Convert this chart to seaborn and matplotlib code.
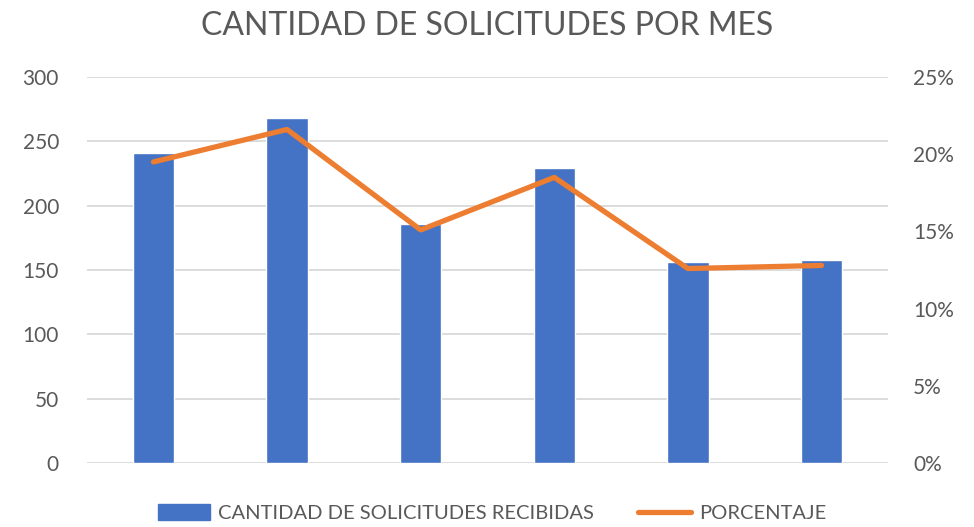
import matplotlib.pyplot as plt
import matplotlib.ticker as mticker
from matplotlib.patches import Patch
from matplotlib.lines import Line2D
import seaborn as sns
import numpy as np
import pandas as pd

# datos
meses = ["Mes 1", "Mes 2", "Mes 3", "Mes 4", "Mes 5", "Mes 6"]
solicitudes = [241, 268, 186, 229, 156, 158]
porcentaje = [0.195, 0.216, 0.151, 0.185, 0.126, 0.128]

AZUL = "#4472C4"
NARANJA = "#ED7D31"
GRIS_TXT = "#595959"
GRIS_GRID = "#D9D9D9"

sns.set_style("white")
plt.rcParams["font.family"] = ["Lato", "DejaVu Sans"]

df = pd.DataFrame({"mes": meses, "solicitudes": solicitudes, "porcentaje": porcentaje})

fig = plt.figure(figsize=(9.74, 5.27), dpi=100)
ax = fig.add_axes([0.089, 0.121, 0.823, 0.733])

sns.barplot(data=df, x="mes", y="solicitudes", color=AZUL, width=0.31,
            saturation=1, ax=ax, zorder=3)
ax.set_ylim(0, 300)
ax.set_yticks(range(0, 301, 50))
ax.yaxis.grid(True, color=GRIS_GRID, linewidth=1.3)
ax.set_axisbelow(True)
for s in ax.spines.values():
    s.set_visible(False)
ax.set_xlabel("")
ax.set_ylabel("")
ax.set_xticklabels([])
ax.tick_params(axis="x", length=0)
ax.tick_params(axis="y", length=0, labelsize=15, labelcolor=GRIS_TXT, pad=20)

ax2 = ax.twinx()
sns.lineplot(x=np.arange(len(meses)), y=df["porcentaje"], color=NARANJA,
             linewidth=3.8, ax=ax2, solid_capstyle="round")
ax2.set_ylim(0, 0.25)
ax2.set_yticks(np.arange(0, 0.251, 0.05))
ax2.yaxis.set_major_formatter(mticker.PercentFormatter(1.0, decimals=0))
for s in ax2.spines.values():
    s.set_visible(False)
ax2.set_ylabel("")
ax2.tick_params(axis="y", length=0, labelsize=15, labelcolor=GRIS_TXT, pad=18)

# la linea cambia los limites compartidos, se vuelven a fijar
ax.set_xlim(-0.5, len(meses) - 0.5)

fig.suptitle("CANTIDAD DE SOLICITUDES POR MES", fontsize=23, color=GRIS_TXT,
             y=0.98)

handles = [Patch(facecolor=AZUL, edgecolor=AZUL),
           Line2D([0], [0], color=NARANJA, linewidth=3.8, solid_capstyle="round")]
fig.legend(handles, ["CANTIDAD DE SOLICITUDES RECIBIDAS", "PORCENTAJE"],
           loc="lower center", bbox_to_anchor=(0.505, -0.025), ncol=2, frameon=False,
           fontsize=14.5, labelcolor=GRIS_TXT, handlelength=2.6, handleheight=0.8,
           columnspacing=2.2, handletextpad=0.4)

fig.savefig("out.png", dpi=100)
